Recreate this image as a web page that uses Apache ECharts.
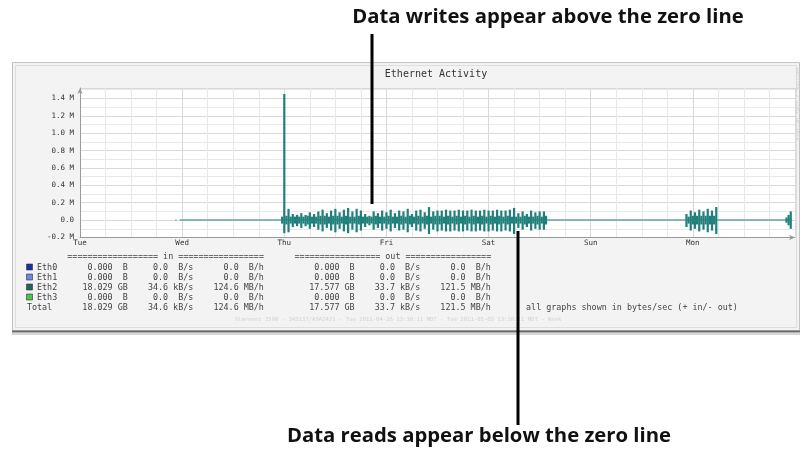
<!DOCTYPE html>
<html><head><meta charset="utf-8">
<script src="https://cdn.jsdelivr.net/npm/echarts@6/dist/echarts.min.js"></script>
<style>html,body{margin:0;padding:0;background:#fff}#c{width:805px;height:449px}</style>
</head><body><div id="c"></div>
<script>
// ---- data (hours since Tue 00:00, values in M bytes/sec) ----
const days = ['Tue','Wed','Thu','Fri','Sat','Sun','Mon'];
const burst1Start = 47.5; // half-hour samples
const writes1 = [0.04,1.45,0.05,0.13,0.04,0.07,0.04,0.06,0.04,0.08,
  0.04,0.06,0.05,0.09,0.04,0.07,0.04,0.10,0.05,0.12,
  0.05,0.08,0.04,0.11,0.05,0.13,0.05,0.09,0.04,0.12,
  0.05,0.14,0.04,0.10,0.04,0.13,0.05,0.11,0.04,0.07,
  0.04,0.05,0.04,0.10,0.05,0.08,0.04,0.11,0.04,0.09,
  0.05,0.12,0.04,0.08,0.04,0.11,0.05,0.10,0.04,0.13,
  0.05,0.07,0.04,0.11,0.05,0.12,0.04,0.09,0.05,0.15,
  0.04,0.10,0.05,0.11,0.05,0.11,0.04,0.12,0.05,0.11,
  0.04,0.11,0.05,0.12,0.04,0.11,0.05,0.11,0.04,0.12,
  0.05,0.11,0.04,0.11,0.05,0.12,0.04,0.11,0.05,0.11,
  0.04,0.12,0.05,0.11,0.04,0.11,0.05,0.12,0.04,0.14,
  0.04,0.08,0.04,0.10,0.05,0.07,0.04,0.11,0.04,0.09,
  0.05,0.10,0.04,0.10,0.05];
const reads1 = [-0.04,-0.15,-0.05,-0.14,-0.04,-0.08,-0.04,-0.07,-0.04,-0.09,
  -0.04,-0.07,-0.05,-0.10,-0.04,-0.08,-0.04,-0.11,-0.05,-0.13,
  -0.05,-0.09,-0.04,-0.12,-0.05,-0.14,-0.05,-0.10,-0.04,-0.13,
  -0.05,-0.15,-0.04,-0.11,-0.04,-0.14,-0.05,-0.12,-0.04,-0.08,
  -0.04,-0.06,-0.04,-0.11,-0.05,-0.09,-0.04,-0.12,-0.04,-0.10,
  -0.05,-0.13,-0.04,-0.09,-0.04,-0.12,-0.05,-0.11,-0.04,-0.14,
  -0.05,-0.08,-0.04,-0.12,-0.05,-0.13,-0.04,-0.10,-0.05,-0.16,
  -0.04,-0.11,-0.05,-0.13,-0.05,-0.12,-0.04,-0.13,-0.05,-0.13,
  -0.04,-0.12,-0.05,-0.13,-0.04,-0.13,-0.05,-0.12,-0.04,-0.13,
  -0.05,-0.13,-0.04,-0.12,-0.05,-0.13,-0.04,-0.13,-0.05,-0.12,
  -0.04,-0.13,-0.05,-0.13,-0.04,-0.12,-0.05,-0.13,-0.04,-0.16,
  -0.04,-0.09,-0.04,-0.11,-0.05,-0.08,-0.04,-0.12,-0.04,-0.10,
  -0.05,-0.11,-0.04,-0.11,-0.05];
const burst2Start = 142.5;
const writes2 = [0.07,0.04,0.11,0.05,0.09,0.05,0.12,0.05,0.10,0.05,0.13,0.05,0.11,0.05,0.15];
const reads2 = [-0.08,-0.04,-0.12,-0.05,-0.10,-0.05,-0.13,-0.05,-0.11,-0.05,-0.14,-0.05,-0.12,-0.05,-0.16];
const burst3Start = 166;
const writes3 = [0.03,0.06,0.10];
const reads3 = [-0.03,-0.06,-0.10];
const idleSegments = [[22.4,22.7],[23.4,167.3]];

// ---- legend table ----
const legendNames = ['Eth0','Eth1','Eth2','Eth3'];
const legendColors = ['#1c2f9e','#7383e0','#1d6a5c','#4ec24e'];
const inTotal  = ['0.000 B','0.000 B','18.029 GB','0.000 B'];
const inRate   = ['0.0 B/s','0.0 B/s','34.6 kB/s','0.0 B/s'];
const inHour   = ['0.0 B/h','0.0 B/h','124.6 MB/h','0.0 B/h'];
const outTotal = ['0.000 B','0.000 B','17.577 GB','0.000 B'];
const outRate  = ['0.0 B/s','0.0 B/s','33.7 kB/s','0.0 B/s'];
const outHour  = ['0.0 B/h','0.0 B/h','121.5 MB/h','0.0 B/h'];
const totalRow = ['18.029 GB','34.6 kB/s','124.6 MB/h','17.577 GB','33.7 kB/s','121.5 MB/h'];

function toPairs(start, arr){ return arr.map((v,i)=>[start+i*0.5, v]); }
const writesData = toPairs(burst1Start,writes1).concat(toPairs(burst2Start,writes2), toPairs(burst3Start,writes3));
const readsData = toPairs(burst1Start,reads1).concat(toPairs(burst2Start,reads2), toPairs(burst3Start,reads3));
const idleData = [];
idleSegments.forEach((s,i)=>{ if(i>0) idleData.push([(idleSegments[i-1][1]+s[0])/2, null]); idleData.push([s[0],0],[s[1],0]); });

function f(s, nw, uw){ const p=s.split(' '); return p[0].padStart(nw)+' '+p[1].padStart(uw); }
function rowStr(name, w, vals){
  return name.padEnd(w) + f(vals[0],11,2)+f(vals[1],8,4)+f(vals[2],9,4)+f(vals[3],15,2)+f(vals[4],8,4)+f(vals[5],9,4);
}
const CW = 5.05, X0 = 37, MONO = '"DejaVu Sans Mono", "Liberation Mono", monospace';
const LFONT = '8.4px ' + MONO;
const rowY = [267.5, 277.5, 287.5, 297.5];
const graphic = [];
graphic.push({type:'rect', z:-10, shape:{x:12.5,y:62.5,width:787,height:268}, style:{fill:'#f3f3f3', stroke:'#c2c2c2', lineWidth:1}});
graphic.push({type:'rect', z:-9, shape:{x:15.5,y:65.5,width:781,height:262}, style:{fill:'none', stroke:'#dedede', lineWidth:1}});
graphic.push({type:'line', z:-9, shape:{x1:12,y1:331.5,x2:800,y2:331.5}, style:{stroke:'#6a6a6a', lineWidth:2}});
graphic.push({type:'line', z:-9, shape:{x1:12,y1:334,x2:800,y2:334}, style:{stroke:'#c8c8c8', lineWidth:1.5}});
graphic.push({type:'text', style:{text:'Ethernet Activity', x:436, y:74, font:'10px '+MONO, fill:'#333', textAlign:'center', textVerticalAlign:'middle'}});
graphic.push({type:'text', rotation:-Math.PI/2, x:797, y:68, style:{text:'RRDTOOL / TOBI OETIKER', x:0, y:0, font:'5.5px '+MONO, fill:'#d0d0d0', textAlign:'left', textVerticalAlign:'middle'}});
graphic.push({type:'text', style:{text:'================== in =================', x:X0+6*CW, y:257, font:LFONT, fill:'#444', textVerticalAlign:'middle'}});
graphic.push({type:'text', style:{text:'================= out =================', x:X0+51*CW, y:257, font:LFONT, fill:'#444', textVerticalAlign:'middle'}});
legendNames.forEach((n,i)=>{
  graphic.push({type:'rect', shape:{x:26.5,y:rowY[i]-3.5,width:6,height:6}, style:{fill:legendColors[i], stroke:'#333', lineWidth:0.6}});
  graphic.push({type:'text', style:{text:rowStr(n,4,[inTotal[i],inRate[i],inHour[i],outTotal[i],outRate[i],outHour[i]]), x:X0, y:rowY[i], font:LFONT, fill:'#444', textVerticalAlign:'middle'}});
});
graphic.push({type:'text', style:{text:rowStr('Total',6,totalRow)+'       all graphs shown in bytes/sec (+ in/- out)', x:X0-2*CW, y:307.5, font:LFONT, fill:'#444', textVerticalAlign:'middle'}});
graphic.push({type:'text', style:{text:'Starmeet 3500 - 343137/ASA2421 - Tue 2011-04-26 13:38:11 MDT - Tue 2011-05-03 13:38:11 MDT - Week', x:398, y:320, font:'5.6px '+MONO, fill:'#d2d2d2', textAlign:'center', textVerticalAlign:'middle'}});
// annotations
const AFONT = 'bold 20.3px "Open Sans", "Noto Sans", sans-serif';
graphic.push({type:'text', z:100, style:{text:'Data writes appear above the zero line', x:548, y:17, font:AFONT, fill:'#111', textAlign:'center', textVerticalAlign:'middle'}});
graphic.push({type:'line', z:100, shape:{x1:372,y1:34,x2:372,y2:204}, style:{stroke:'#000', lineWidth:3}});
graphic.push({type:'line', z:100, shape:{x1:518,y1:231,x2:518,y2:425}, style:{stroke:'#000', lineWidth:3}});
graphic.push({type:'text', z:100, style:{text:'Data reads appear below the zero line', x:479, y:436, font:AFONT, fill:'#111', textAlign:'center', textVerticalAlign:'middle'}});

const chart = echarts.init(document.getElementById('c'), null, {renderer:'canvas'});
const labelFont = {fontFamily:MONO, fontSize:7.5, color:'#333'};
chart.setOption({
  animation:false,
  backgroundColor:'#fff',
  grid:{left:80, right:10, top:88, bottom:211.5, show:true, backgroundColor:'#fff', borderWidth:0},
  xAxis:{type:'value', min:0, max:168, interval:24,
    axisLine:{show:true, onZero:false, symbol:['none','arrow'], symbolSize:[4,6], lineStyle:{color:'#9a9a9a', width:1}},
    axisTick:{show:false},
    axisLabel:Object.assign({margin:2, showMaxLabel:false, formatter:v=>days[Math.round(v/24)]||''}, labelFont),
    splitLine:{show:true, lineStyle:{color:'#d8d8d8', width:1}},
    minorTick:{show:false, splitNumber:4},
    minorSplitLine:{show:true, lineStyle:{color:'#e8e8e8', width:1}}
  },
  yAxis:{type:'value', min:-0.2, max:1.52, interval:0.2,
    axisLine:{show:true, symbol:['none','arrow'], symbolSize:[4,6], lineStyle:{color:'#9a9a9a', width:1}},
    axisTick:{show:false},
    axisLabel:Object.assign({margin:6, showMaxLabel:false, formatter:v=>Math.abs(v)<1e-9?'0.0':v.toFixed(1)+' M'}, labelFont),
    splitLine:{show:true, lineStyle:{color:'#d8d8d8', width:1}},
    minorTick:{show:false, splitNumber:2},
    minorSplitLine:{show:true, lineStyle:{color:'#e8e8e8', width:1}}
  },
  graphic:graphic,
  series:[
    {name:'idle', type:'line', data:idleData, symbol:'none', connectNulls:false, lineStyle:{color:'#5fa8a2', width:1.5}, z:2},
    {name:'writes', type:'bar', stack:'io', data:writesData, barWidth:2.2, itemStyle:{color:'#1f7f7a'}, z:3},
    {name:'reads', type:'bar', stack:'io', data:readsData, barWidth:2.2, itemStyle:{color:'#1f7f7a'}, z:3}
  ]
});
</script></body></html>
